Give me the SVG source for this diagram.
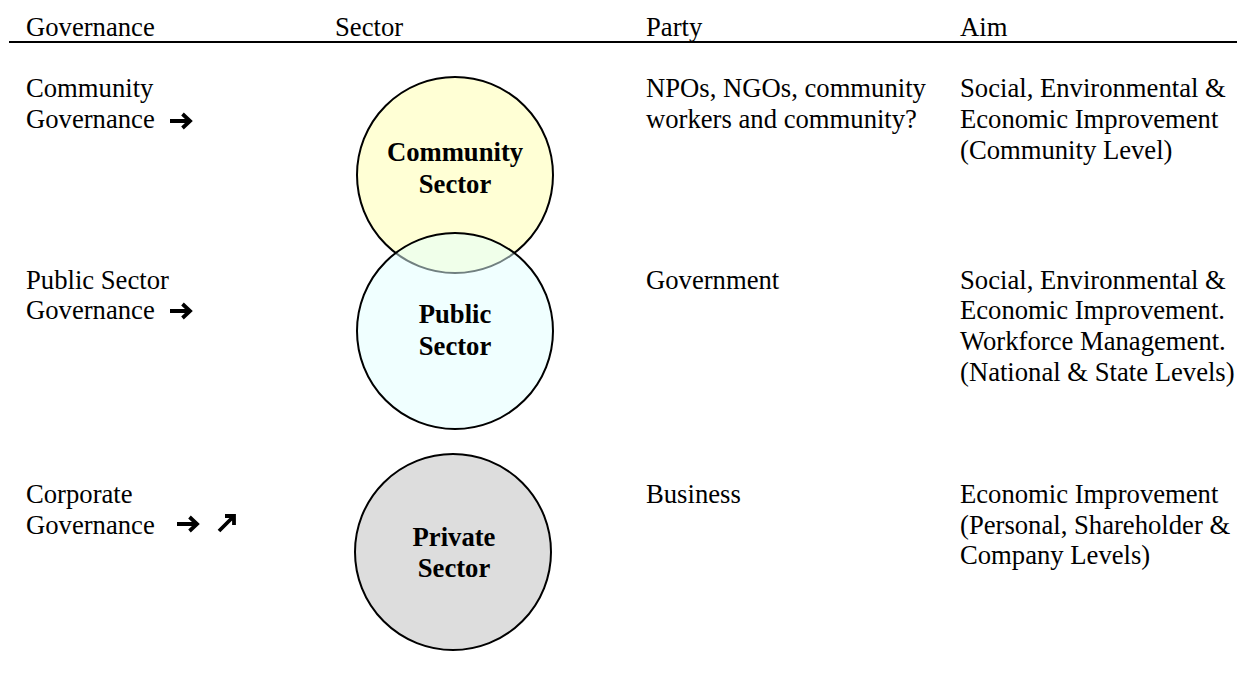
<svg xmlns="http://www.w3.org/2000/svg" width="1237" height="686" viewBox="0 0 1237 686">
<style>
.t{font-family:"Liberation Serif","Times New Roman",serif;font-size:26.67px;fill:#000}
.b{font-family:"Liberation Serif","Times New Roman",serif;font-size:26.67px;font-weight:bold;fill:#000;text-anchor:middle}
.c{stroke:#000;stroke-width:2}
.arw{fill:none;stroke:#000;stroke-width:3.8;stroke-linejoin:miter;stroke-linecap:butt}
</style>
<defs>
<path id="arrowR" class="arw" d="M0,0 H19 M12.5,-7 L20,0 L12.5,7"/>
<path id="arrowNE" class="arw" d="M0,0 L14,-14 M6,-15 H15 V-6"/>
</defs>
<rect width="1237" height="686" fill="#fff"/>
<g id="header">
<text class="t" x="26" y="36">Governance</text>
<text class="t" x="335" y="36">Sector</text>
<text class="t" x="646" y="36">Party</text>
<text class="t" x="960" y="36">Aim</text>
<line x1="9" y1="42" x2="1237" y2="42" stroke="#000" stroke-width="2"/>
</g>
<g id="community-governance">
<text class="t" x="26" y="97">Community</text>
<text class="t" x="26" y="128">Governance</text>
<use href="#arrowR" x="170" y="121"/>
</g>
<g id="public-governance">
<text class="t" x="26" y="289">Public Sector</text>
<text class="t" x="26" y="319">Governance</text>
<use href="#arrowR" x="170" y="311"/>
</g>
<g id="corporate-governance">
<text class="t" x="26" y="503">Corporate</text>
<text class="t" x="26" y="534">Governance</text>
<use href="#arrowR" x="177" y="524"/>
<use href="#arrowNE" x="219" y="531"/>
</g>
<g id="community-sector">
<circle class="c" cx="455" cy="175" r="98" fill="#FFFFD5"/>
<text class="b" x="455" y="161">Community</text>
<text class="b" x="455" y="193">Sector</text>
</g>
<g id="public-sector">
<circle cx="455" cy="331" r="98" fill="#E1FFFF" fill-opacity="0.5" stroke="#000" stroke-width="2"/>
<text class="b" x="455" y="323">Public</text>
<text class="b" x="455" y="355">Sector</text>
</g>
<g id="private-sector">
<circle class="c" cx="453" cy="552" r="98" fill="#DDDDDD"/>
<text class="b" x="454" y="546">Private</text>
<text class="b" x="454" y="577">Sector</text>
</g>
<g id="party">
<text class="t" x="646" y="97">NPOs, NGOs, community</text>
<text class="t" x="646" y="128">workers and community?</text>
<text class="t" x="646" y="289">Government</text>
<text class="t" x="646" y="503">Business</text>
</g>
<g id="aim">
<text class="t" x="960" y="97">Social, Environmental &amp;</text>
<text class="t" x="960" y="128">Economic Improvement</text>
<text class="t" x="960" y="159">(Community Level)</text>
<text class="t" x="960" y="289">Social, Environmental &amp;</text>
<text class="t" x="960" y="319">Economic Improvement.</text>
<text class="t" x="960" y="350">Workforce Management.</text>
<text class="t" x="960" y="381">(National &amp; State Levels)</text>
<text class="t" x="960" y="503">Economic Improvement</text>
<text class="t" x="960" y="534">(Personal, Shareholder &amp;</text>
<text class="t" x="960" y="564">Company Levels)</text>
</g>
<g id="connectors"></g>
</svg>
